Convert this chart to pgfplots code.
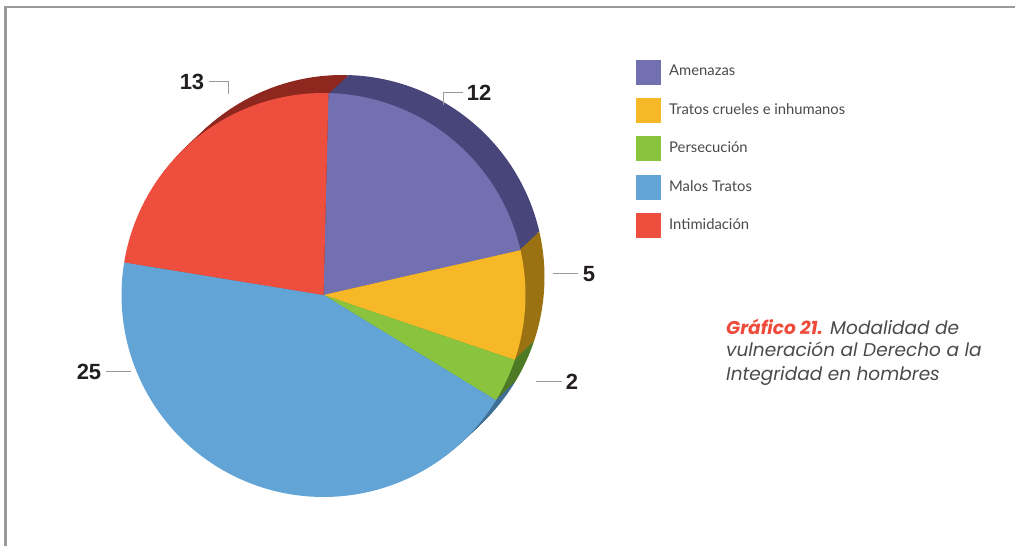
\documentclass[border=0pt]{standalone}
\usepackage{pgfplots}
\pgfplotsset{compat=1.18}
\usepackage{fontspec}
\setmainfont{Lato}
\newfontfamily\numfont{Liberation Sans}
\newfontfamily\capfont{Poppins}
\definecolor{fA}{HTML}{7370B2}\definecolor{rA}{HTML}{48457A}
\definecolor{fB}{HTML}{F7B827}\definecolor{rB}{HTML}{9B7212}
\definecolor{fC}{HTML}{8AC43F}\definecolor{rC}{HTML}{4E7A25}
\definecolor{fD}{HTML}{62A4D6}\definecolor{rD}{HTML}{3E6E93}
\definecolor{fE}{HTML}{EE4E3E}\definecolor{rE}{HTML}{8E271E}
\definecolor{txt}{HTML}{4A4A4A}
\definecolor{num}{HTML}{231F20}
\definecolor{lead}{HTML}{9A9A9A}
\definecolor{ttl}{HTML}{EE4B3A}
% values
\def\vA{12}\def\vB{5}\def\vC{2}\def\vD{25}\def\vE{13}
\def\cx{323.5}\def\cy{-295}\def\R{202}\def\dx{19}\def\dy{18}
\newcommand{\sector}[4]{%
 \pgfmathsetmacro\ox{\cx+#4*\dx}\pgfmathsetmacro\oy{\cy+#4*\dy}%
 \edef\tmp{\noexpand\addplot[fill=#1,draw=none,domain=#3:#2,samples=90,forget plot] ({\ox+\R*cos(x)},{\oy+\R*sin(x)}) -- (axis cs:\ox,\oy) -- cycle;}\tmp}
\begin{document}
\begin{tikzpicture}
\pgfmathsetmacro{\tot}{\vA+\vB+\vC+\vD+\vE}
\pgfmathsetmacro{\aA}{88.6}
\pgfmathsetmacro{\aB}{\aA-360*\vA/\tot}
\pgfmathsetmacro{\aC}{\aB-360*\vB/\tot}
\pgfmathsetmacro{\aD}{\aC-360*\vC/\tot}
\pgfmathsetmacro{\aE}{\aD-360*\vD/\tot}
\pgfmathsetmacro{\aF}{\aE-360*\vE/\tot}
\begin{axis}[scale only axis, width=1015pt, height=546pt,
  xmin=0, xmax=1015, ymin=-546, ymax=0, axis lines=none, clip=false]
% rim (extruded side)
\foreach \s in {1,0.9,0.8,0.7,0.6,0.5,0.4,0.3,0.2,0.1}{%
  \sector{rA}{\aA}{\aB}{\s}
  \sector{rB}{\aB}{\aC}{\s}
  \sector{rC}{\aC}{\aD}{\s}
  \sector{rD}{\aD}{\aE}{\s}
  \sector{rE}{\aE}{\aF}{\s}
}
% front face
\sector{fA}{\aA}{\aB}{0}
\sector{fB}{\aB}{\aC}{0}
\sector{fC}{\aC}{\aD}{0}
\sector{fD}{\aD}{\aE}{0}
\sector{fE}{\aE}{\aF}{0}
% value labels
\begin{scope}[lead, line width=1pt]
\draw (axis cs:443,-105) -- (axis cs:443,-93) -- (axis cs:463,-93);
\draw (axis cs:553,-274) -- (axis cs:578,-274);
\draw (axis cs:536,-382) -- (axis cs:562,-382);
\draw (axis cs:106,-372) -- (axis cs:131,-372);
\draw (axis cs:209,-82) -- (axis cs:228,-82) -- (axis cs:228,-94);
\end{scope}
\begin{scope}[every node/.style={font=\numfont\bfseries\fontsize{22}{26}\selectfont, text=num, inner sep=0pt}]
\node at (axis cs:479,-93) {12};
\node at (axis cs:589,-274) {5};
\node at (axis cs:572,-382) {2};
\node at (axis cs:89,-372) {25};
\node at (axis cs:192,-82) {13};
\end{scope}
% legend
\addplot[fill=fA,draw=none,forget plot] coordinates {(636,-60) (661,-60) (661,-85) (636,-85)} -- cycle;
\addplot[fill=fB,draw=none,forget plot] coordinates {(636,-98) (661,-98) (661,-123) (636,-123)} -- cycle;
\addplot[fill=fC,draw=none,forget plot] coordinates {(636,-136) (661,-136) (661,-161) (636,-161)} -- cycle;
\addplot[fill=fD,draw=none,forget plot] coordinates {(636,-175) (661,-175) (661,-200) (636,-200)} -- cycle;
\addplot[fill=fE,draw=none,forget plot] coordinates {(636,-213) (661,-213) (661,-238) (636,-238)} -- cycle;
\begin{scope}[every node/.style={font=\fontsize{14.8}{17}\selectfont, text=txt, inner sep=0pt, anchor=base west}]
\node at (axis cs:669,-76) {Amenazas};
\node at (axis cs:669,-114.5) {Tratos crueles e inhumanos};
\node at (axis cs:669,-153) {Persecución};
\node at (axis cs:669,-191.5) {Malos Tratos};
\node at (axis cs:669,-230) {Intimidación};
\end{scope}
% caption
\begin{scope}[every node/.style={font=\capfont\fontsize{18.5}{23}\selectfont\itshape, text=txt, inner sep=0pt, anchor=base west}]
\node at (axis cs:726,-334.3) {\textcolor{ttl}{\bfseries Gráfico 21.} Modalidad de};
\node at (axis cs:726,-356.7) {vulneración al Derecho a la};
\node at (axis cs:726,-380.7) {Integridad en hombres};
\end{scope}
% frame
\draw[color=lead, line width=2.5pt] (axis cs:5.3,-546) -- (axis cs:5.3,-7.2) -- (axis cs:1015,-7.2);
\end{axis}
\pgfresetboundingbox
\useasboundingbox (0,0) rectangle (1015pt,546pt);
\end{tikzpicture}
\end{document}
